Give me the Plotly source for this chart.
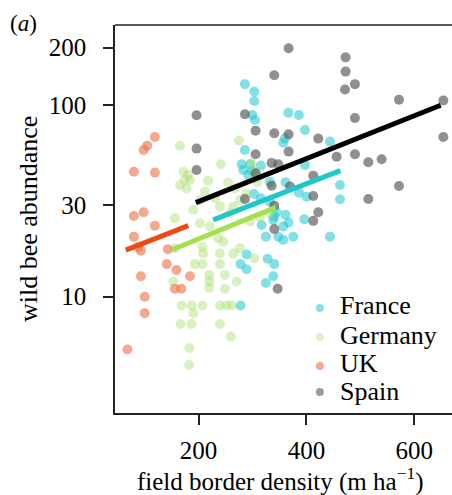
import plotly.graph_objects as go

# ---- data ----
france_x = [286, 303.3, 303.3, 299.6, 304.5, 366.4, 386.1, 397.3, 360.2, 357.1, 443.7, 286,
            397.3, 279.8, 295.2, 315.6, 282.9, 299.6, 292.1, 332.3, 361.4, 462.2, 462.2, 302.7,
            315.6, 332.3, 386.1, 400.4, 396, 344.7, 361.4, 340.4, 367, 324.9, 347.8, 357.1,
            375.6, 443.7, 289.1, 277.9, 289.1, 328, 340.4, 338.5, 324.9, 277.9, 338.5, 357.1, 316.9]
france_y = [129, 118, 105.3, 89, 83.8, 91.5, 89, 74.3, 67.2, 63.8, 64.6, 58.4,
            48.8, 49.2, 49.2, 48.4, 45.9, 45.5, 43.2, 39.8, 39.6, 38.3, 32.3, 34.4,
            32.7, 31.4, 34.9, 33.3, 25.4, 27.6, 26.8, 26.2, 24.4, 20.6, 20.6, 19.8,
            20.6, 20.6, 16.6, 14.8, 13.9, 15.8, 14.8, 12.8, 11.8, 9.0, 25.2, 23.3, 23.7]

germany_x = [165.4, 241.4, 274.8, 171.6, 180.8, 174.6, 183.9, 165.4, 177.7, 217.9, 255, 267.4,
             211.7, 190.1, 156.1, 202.5, 221, 236.5, 245.8, 156.1, 207.4, 239.6, 208.7, 264.3,
             276.7, 303.3, 193.2, 207.4, 239.6, 219.8, 219.8, 219.8, 248.9, 270.5, 248.9, 153,
             168.5, 187, 207.4, 239.6, 251.9, 261.2, 190.1, 166.6, 187, 239.6, 260, 182.7, 182.7,
             298.3, 304.5, 309.5, 289.1, 276.7, 264.3, 332.3, 313.8, 295.2, 258.1, 239.6, 202.5, 230.3]
germany_y = [61.5, 49.2, 65.4, 45.0, 43.2, 40.7, 40.7, 38.3, 36.8, 40.4, 39.5, 36.8,
             35.4, 28.4, 25.7, 24.2, 23.3, 20.2, 19.4, 17.9, 18.2, 16.8, 16.8, 16.8,
             17.9, 15.9, 14.8, 14.8, 14.8, 13.0, 12.0, 11.1, 13.0, 12.0, 11.0, 12.0,
             9.0, 9.0, 9.0, 9.0, 9.0, 9.0, 8.2, 7.2, 7.2, 7.2, 6.2, 5.4, 4.4,
             49.8, 45.0, 39.8, 34.6, 32.0, 29.6, 27.3, 26.2, 24.7, 27.3, 29.6, 32.0, 32.7]

uk_x = [119, 104.8, 98, 80, 119, 80, 98, 119, 80, 88, 143, 93, 141, 159, 184, 93, 156, 168,
        100, 100, 68]
uk_y = [68.3, 61.5, 58.4, 45.0, 44.5, 26.4, 27.6, 23.5, 20.6, 18.2, 17.7, 17.4, 14.8, 13.8,
        12.8, 12.8, 11.0, 11.0, 10.0, 8.2, 5.3]

spain_x = [367, 472.7, 340.4, 472.7, 490, 471.5, 571.7, 654, 196.3, 286, 490, 305.8, 340.4,
           367, 654, 422, 196.3, 367, 305.8, 490, 456, 539.5, 514.8, 335.4, 347.8, 196.3,
           305.8, 412.7, 335.4, 369.5, 571.7, 286, 412.7, 514.8, 340.4, 422, 412.7, 340.4, 346.6]
spain_y = [198.6, 178, 143.5, 150, 129, 121, 107, 106, 88.7, 89.8, 85.9, 73.7, 71.4,
           70.5, 68.3, 67, 59.4, 57.3, 55.5, 55.5, 53.9, 52.2, 50.4, 50, 49.2, 45.9,
           44.1, 42.9, 38, 37.6, 37.9, 32.4, 33.6, 32.4, 29.9, 27.6, 24.9, 22.6, 11.0]

# fitted lines (x start/end, y start/end)
fit_uk_x = [65, 181]
fit_uk_y = [17.5, 23.5]
fit_germany_x = [151, 343]
fit_germany_y = [17.6, 29.3]
fit_france_x = [227, 463]
fit_france_y = [25.2, 45.6]
fit_spain_x = [195, 649]
fit_spain_y = [31.0, 100]

x_ticks = [200, 400, 600]
y_ticks = [10, 30, 100, 200]
legend_names = ["France", "Germany", "UK", "Spain"]

FONT = "Liberation Serif"

fig = go.Figure()

point_colors = ["rgba(30,200,210,0.55)", "rgba(170,225,110,0.45)",
                "rgba(235,110,70,0.6)", "rgba(85,85,85,0.65)"]
legend_colors = ["#86e0e4", "#dcf2c2", "#f3aa92", "#9c9c9c"]
groups = [(france_x, france_y), (germany_x, germany_y), (uk_x, uk_y), (spain_x, spain_y)]
for name, (xs, ys), col in zip(legend_names, groups, point_colors):
    fig.add_trace(go.Scatter(x=xs, y=ys, mode="markers", name=name, showlegend=False,
                             marker=dict(size=10, color=col, line=dict(width=0))))

fits = [
    (fit_uk_x, fit_uk_y, "#f04a14"),
    (fit_germany_x, fit_germany_y, "#a6e050"),
    (fit_france_x, fit_france_y, "#1ec8c8"),
    (fit_spain_x, fit_spain_y, "#000000"),
]
for xs, ys, col in fits:
    fig.add_trace(go.Scatter(x=xs, y=ys, mode="lines", showlegend=False,
                             line=dict(color=col, width=5), hoverinfo="skip"))

# manual legend (paper coordinates)
leg_text_y = [0.2758, 0.2010, 0.1263, 0.0567]
leg_dot_y = [0.2706, 0.1959, 0.1211, 0.0541]
shapes = [dict(type="line", xref="paper", yref="paper", x0=0, x1=1, y0=1, y1=1,
               line=dict(color="#222", width=1.5))]
annotations = []
for name, col, ty, dy in zip(legend_names, legend_colors, leg_text_y, leg_dot_y):
    shapes.append(dict(type="circle", xref="paper", yref="paper",
                       x0=0.608 - 0.0119, x1=0.608 + 0.0119,
                       y0=dy - 0.0103, y1=dy + 0.0103,
                       fillcolor=col, line=dict(width=0)))
    annotations.append(dict(text=name, xref="paper", yref="paper", x=0.663, y=ty,
                            xanchor="left", yanchor="middle", showarrow=False,
                            font=dict(size=26, family=FONT, color="black")))

annotations += [
    dict(text="(<i>a</i>)", xref="paper", yref="paper", x=-0.318, y=1.005,
         xanchor="left", yanchor="middle", showarrow=False,
         font=dict(size=23, family=FONT)),
    dict(text="field border density (m ha<sup>−1</sup>)", xref="paper", yref="paper",
         x=0.49, y=-0.171, xanchor="center", yanchor="middle", showarrow=False,
         font=dict(size=25, family=FONT)),
    dict(text="wild bee abundance", xref="paper", yref="paper", textangle=-90,
         x=-0.258, y=0.5, xanchor="center", yanchor="middle", showarrow=False,
         font=dict(size=26, family=FONT)),
]

fig.update_layout(
    width=452, height=495,
    margin=dict(l=115, r=0, t=25, b=82),
    paper_bgcolor="white", plot_bgcolor="white",
    font=dict(family=FONT, size=25, color="black"),
    xaxis=dict(range=[45, 670], tickvals=x_ticks, ticks="outside", ticklen=10,
               tickwidth=1.5, tickcolor="#222", showline=True, linecolor="#222",
               linewidth=1.5, showgrid=False, zeroline=False,
               ticklabelstandoff=4, tickfont=dict(size=25, family=FONT)),
    yaxis=dict(type="log", range=[0.3924, 2.4195], tickvals=y_ticks,
               ticktext=[str(v) for v in y_ticks], ticks="outside", ticklen=10,
               tickwidth=1.5, tickcolor="#222", showline=True, linecolor="#222",
               linewidth=1.5, showgrid=False, zeroline=False,
               ticklabelstandoff=12, tickfont=dict(size=25, family=FONT)),
    shapes=shapes,
    annotations=annotations,
)

fig.write_html("out.html", config={"displayModeBar": False},
               post_script="document.body.style.margin='0px';document.body.style.padding='0px';")
